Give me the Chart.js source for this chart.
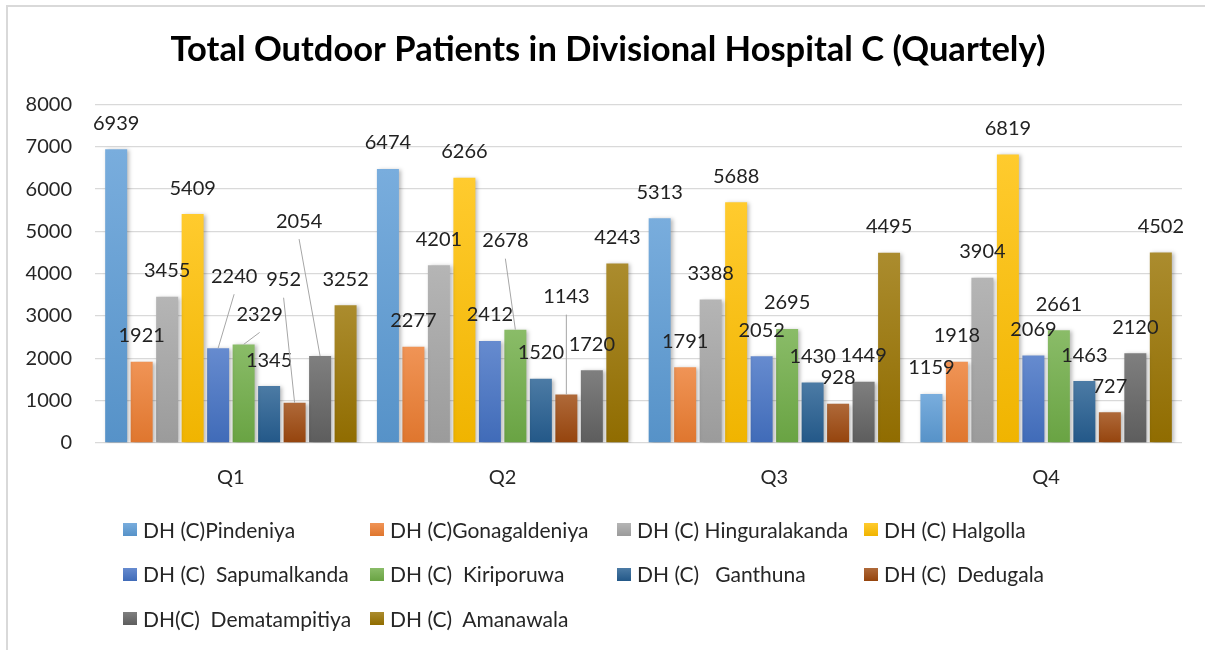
<!DOCTYPE html>
<html>
<head>
<meta charset="utf-8">
<title>Total Outdoor Patients in Divisional Hospital C</title>
<script src="https://cdn.jsdelivr.net/npm/chart.js@4.4.1/dist/chart.umd.min.js"></script>
<style>
    html, body { margin: 0; padding: 0; background: #fff; overflow: hidden; }
    #wrap { position: relative; width: 1205px; height: 650px; overflow: hidden; }
    #frame {
        position: absolute; left: 6px; top: 5px; width: 1199px; height: 645px;
        border-left: 2px solid #d9d9d9; border-top: 2px solid #d9d9d9;
        box-sizing: border-box; pointer-events: none;
    }
    #legend { position: absolute; left: 0; top: 0; width: 1205px; height: 650px; pointer-events: none; }
    .lg-item {
        position: absolute; height: 26px; line-height: 26px;
        font-family: Lato, "Noto Sans", sans-serif; font-size: 21px; color: #262626;
        white-space: pre; display: flex; align-items: center;
    }
    .lg-box { width: 14px; height: 13px; margin-right: 6px; flex: none; }
</style>
</head>
<body>
<div id="wrap">
    <canvas id="opdChart" width="1205" height="650"></canvas>
    <div id="frame"></div>
    <div id="legend"></div>
</div>
<script>
// --- Data ---
const quarters = ['Q1', 'Q2', 'Q3', 'Q4'];

const hospitals = [
    'DH (C)Pindeniya',
    'DH (C)Gonagaldeniya',
    'DH (C) Hinguralakanda',
    'DH (C) Halgolla',
    'DH (C)  Sapumalkanda',
    'DH (C)  Kiriporuwa',
    'DH (C)   Ganthuna',
    'DH (C)  Dedugala',
    'DH(C)  Dematampitiya',
    'DH (C)  Amanawala'
];

const pindeniya      = [6939, 6474, 5313, 1159];
const gonagaldeniya  = [1921, 2277, 1791, 1918];
const hinguralakanda = [3455, 4201, 3388, 3904];
const halgolla       = [5409, 6266, 5688, 6819];
const sapumalkanda   = [2240, 2412, 2052, 2069];
const kiriporuwa     = [2329, 2678, 2695, 2661];
const ganthuna       = [1345, 1520, 1430, 1463];
const dedugala       = [952, 1143, 928, 727];
const dematampitiya  = [2054, 1720, 1449, 2120];
const amanawala      = [3252, 4243, 4495, 4502];

const yTickLabels = ['0', '1000', '2000', '3000', '4000', '5000', '6000', '7000', '8000'];

const seriesValues = [
    pindeniya, gonagaldeniya, hinguralakanda, halgolla, sapumalkanda,
    kiriporuwa, ganthuna, dedugala, dematampitiya, amanawala
];

// Office palette
const seriesColors = [
    '#5B9BD5', '#ED7D31', '#A5A5A5', '#FFC000', '#4472C4',
    '#70AD47', '#255E91', '#9E480E', '#636363', '#997300'
];

// labels that were dragged away from their bar (pixel shift from default spot)
const movedLabels = {
    '4-0': [16, -46],
    '5-0': [16, -4],
    '7-0': [-11, -97],
    '8-0': [-21, -109],
    '5-1': [-10, -63],
    '7-1': [0, -72]
};

// --- Helpers ---
function mix(hex, target, amt) {
    const n = parseInt(hex.slice(1), 16);
    const r = (n >> 16) & 255, g = (n >> 8) & 255, b = n & 255;
    const t = target === 'white' ? 255 : 0;
    const m = v => Math.round(v + (t - v) * amt);
    return `rgb(${m(r)}, ${m(g)}, ${m(b)})`;
}

function barGradient(color) {
    return (context) => {
        const chart = context.chart;
        const yScale = chart.scales.y;
        if (!chart.chartArea || !yScale || context.raw === undefined) return color;
        const top = yScale.getPixelForValue(context.raw);
        const base = yScale.getPixelForValue(0);
        const grad = chart.ctx.createLinearGradient(0, top, 0, base);
        grad.addColorStop(0, mix(color, 'white', 0.18));
        grad.addColorStop(1, mix(color, 'black', 0.06));
        return grad;
    };
}

// --- Plugin: bar shadow + data labels with leader lines ---
const barExtras = {
    id: 'barExtras',
    beforeDatasetsDraw(chart) {
        const ctx = chart.ctx;
        ctx.save();
        ctx.shadowColor = 'rgba(0, 0, 0, 0.28)';
        ctx.shadowBlur = 4;
        ctx.shadowOffsetX = 2;
        ctx.shadowOffsetY = 1;
    },
    afterDatasetsDraw(chart) {
        const ctx = chart.ctx;
        ctx.restore();

        ctx.save();
        ctx.font = '20px Lato, "Noto Sans", sans-serif';
        ctx.textAlign = 'center';
        ctx.textBaseline = 'middle';
        chart.data.datasets.forEach((ds, di) => {
            const meta = chart.getDatasetMeta(di);
            meta.data.forEach((bar, i) => {
                const shift = movedLabels[di + '-' + i] || [0, 0];
                const x = bar.x + shift[0];
                const y = bar.y - 26 + shift[1];
                if (movedLabels[di + '-' + i]) {
                    ctx.strokeStyle = '#a6a6a6';
                    ctx.lineWidth = 1;
                    ctx.beginPath();
                    ctx.moveTo(x, y + 18);
                    ctx.lineTo(bar.x, bar.y);
                    ctx.stroke();
                }
                ctx.fillStyle = '#222';
                ctx.fillText(String(ds.data[i]), x, y);
            });
        });
        ctx.restore();
    }
};

// --- Chart ---
const datasets = hospitals.map((name, i) => ({
    label: name,
    data: seriesValues[i],
    backgroundColor: barGradient(seriesColors[i]),
    borderWidth: 0,
    categoryPercentage: 0.938,
    barPercentage: 0.863
}));

const opdChart = new Chart(document.getElementById('opdChart').getContext('2d'), {
    type: 'bar',
    data: { labels: quarters, datasets: datasets },
    plugins: [barExtras],
    options: {
        responsive: false,
        animation: false,
        layout: { padding: { left: 11, right: 0, top: 0, bottom: 147 } },
        plugins: {
            legend: { display: false },
            tooltip: { enabled: false },
            title: {
                display: true,
                text: 'Total Outdoor Patients in Divisional Hospital C (Quartely)',
                color: '#000',
                font: { family: 'Lato, "Noto Sans", sans-serif', size: 34.5, weight: 'bold', lineHeight: 1.2 },
                padding: { top: 29, bottom: 34 }
            }
        },
        scales: {
            x: {
                grid: { display: false },
                border: { display: false },
                ticks: {
                    color: '#262626',
                    padding: 15,
                    font: { family: 'Lato, "Noto Sans", sans-serif', size: 20 }
                },
                afterFit: (scale) => { scale.height = 60; }
            },
            y: {
                min: 0,
                max: 8000,
                grid: { color: '#d9d9d9', lineWidth: 1.3, drawTicks: false },
                border: { display: false },
                ticks: {
                    stepSize: 1000,
                    padding: 23,
                    color: '#262626',
                    font: { family: 'Lato, "Noto Sans", sans-serif', size: 20 },
                    callback: (value) => yTickLabels[value / 1000]
                },
                afterFit: (scale) => { scale.width = 84; }
            },
            // empty right-hand gutter so the plot stops short of the edge
            gutter: {
                type: 'linear',
                position: 'right',
                grid: { display: false },
                border: { display: false },
                ticks: { display: false },
                afterFit: (scale) => { scale.width = 23; }
            }
        }
    }
});

// --- Legend (4 fixed columns, like the spreadsheet) ---
function buildLegend(chart) {
    const holder = document.getElementById('legend');
    chart.data.datasets.forEach((ds, i) => {
        const col = i % 4;
        const row = Math.floor(i / 4);
        const item = document.createElement('div');
        item.className = 'lg-item';
        item.style.left = (123 + col * 247) + 'px';
        item.style.top = (529.5 + row * 44.5 - 13) + 'px';

        const box = document.createElement('span');
        box.className = 'lg-box';
        box.style.background = `linear-gradient(${mix(seriesColors[i], 'white', 0.18)}, ${mix(seriesColors[i], 'black', 0.06)})`;

        const text = document.createElement('span');
        text.textContent = ds.label;

        item.appendChild(box);
        item.appendChild(text);
        holder.appendChild(item);
    });
}

buildLegend(opdChart);
</script>
</body>
</html>
